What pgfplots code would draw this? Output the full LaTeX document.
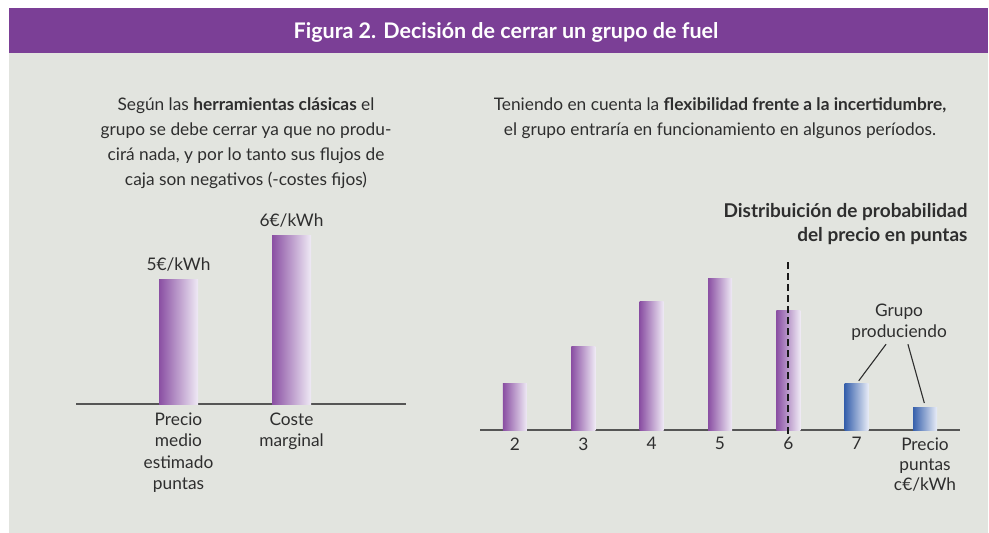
\documentclass[border=0pt]{standalone}
\usepackage{pgfplots}
\pgfplotsset{compat=1.18}
\usepackage{fontspec}
\setmainfont{Lato}
\definecolor{banner}{HTML}{7B3F96}
\definecolor{panel}{HTML}{E2E4DF}
\definecolor{txt}{HTML}{2E2E2E}
\definecolor{axisc}{HTML}{555555}
\definecolor{pL}{HTML}{8A4FA3}
\definecolor{pR}{HTML}{EFEAF5}
\definecolor{bL}{HTML}{3760AC}
\definecolor{bR}{HTML}{E9EDF7}
\newcommand{\bodyfont}{\fontsize{17.3}{25}\selectfont}
\pgfplotsset{
  pbar/.style={ybar, bar width=24pt, bar shift=0pt, draw=none, left color=pL, right color=pR},
  bbar/.style={ybar, bar width=24pt, bar shift=0pt, draw=none, left color=bL, right color=bR},
}
\begin{document}
\begin{tikzpicture}
\useasboundingbox (0,0) rectangle (989pt,-533pt);
\fill[white] (0,0) rectangle (989pt,-533pt);
\fill[banner] (9pt,-8pt) rectangle (988pt,-53pt);
\fill[panel] (9pt,-53pt) rectangle (988pt,-533pt);
\node[text=white, font=\fontsize{21.5}{24}\selectfont\bfseries] at (506pt,-32.5pt) {Figura 2. Decisión de cerrar un grupo de fuel};
\node[align=center, text=txt, font=\bodyfont] at (246pt,-143pt) {Según las \textbf{herramientas clásicas} el\\grupo se debe cerrar ya que no produ-\\cirá nada, y por lo tanto sus flujos de\\caja son negativos (-costes fijos)};
\node[align=center, text=txt, font=\bodyfont] at (720pt,-118.5pt) {Teniendo en cuenta la \textbf{flexibilidad frente a la incertidumbre,}\\el grupo entraría en funcionamiento en algunos períodos.};
\node[align=right, text=txt, anchor=east, font=\fontsize{19}{24}\selectfont\bfseries] at (971pt,-224pt) {Distribuición de probabilidad\\del precio en puntas};

% Left chart
\begin{axis}[
  at={(76pt,-404pt)}, anchor=south west,
  scale only axis, width=330pt, height=184pt,
  xmin=0.093, xmax=3.013, ymin=2.18, ymax=6.36,
  axis x line*=bottom, axis y line=none,
  axis line style={draw=axisc, line width=1.3pt, -},
  xtick={1,2}, xticklabels={{Precio\\medio\\estimado\\puntas},{Coste\\marginal}},
  major tick length=0pt,
  xticklabel style={align=center, text=txt, font=\fontsize{17.3}{21.5}\selectfont, yshift=-5pt},
  ytick=\empty, clip mode=individual,
]
\addplot[pbar, bar width=39pt] coordinates {(1,5)};
\addplot[pbar, bar width=39pt] coordinates {(2,6)};
\node[anchor=south, text=txt, font=\fontsize{17.3}{18}\selectfont, yshift=5pt] at (axis cs:1,5) {5€/kWh};
\node[anchor=south, text=txt, font=\fontsize{17.3}{18}\selectfont, yshift=5pt] at (axis cs:2,6) {6€/kWh};
\end{axis}

% Right chart
\begin{axis}[
  at={(480pt,-430pt)}, anchor=south west,
  scale only axis, width=480pt, height=180pt,
  xmin=1.488, xmax=8.512, ymin=0, ymax=30,
  axis x line*=bottom, axis y line=none,
  axis line style={draw=axisc, line width=1.3pt, -},
  xtick={2,3,4,5,6,7,8}, xticklabels={2,3,4,5,6,7,{Precio\\puntas\\c€/kWh}},
  major tick length=0pt,
  xticklabel style={align=center, anchor=north, text=txt, font=\fontsize{17.3}{20}\selectfont, yshift=-4pt},
  ytick=\empty, clip=false,
]
\addplot[pbar] coordinates {(2,7.7)};
\addplot[pbar] coordinates {(3,14.0)};
\addplot[pbar] coordinates {(4,21.5)};
\addplot[pbar] coordinates {(5,25.3)};
\addplot[pbar] coordinates {(6,20.0)};
\addplot[bbar] coordinates {(7,7.7)};
\addplot[bbar] coordinates {(8,3.8)};
\draw[black!90, line width=2.2pt, dash pattern=on 7pt off 4pt] (axis cs:6,-0.6) -- (axis cs:6,28.3);
\node[align=center, text=txt, font=\fontsize{17.3}{21}\selectfont] at (axis cs:7.62,17.9) {Grupo\\produciendo};
\draw[txt, line width=1.1pt] (axis cs:7.43,14.3) -- (axis cs:7.03,8.2);
\draw[txt, line width=1.1pt] (axis cs:7.75,14.3) -- (axis cs:7.99,4.5);
\end{axis}
\end{tikzpicture}
\end{document}
